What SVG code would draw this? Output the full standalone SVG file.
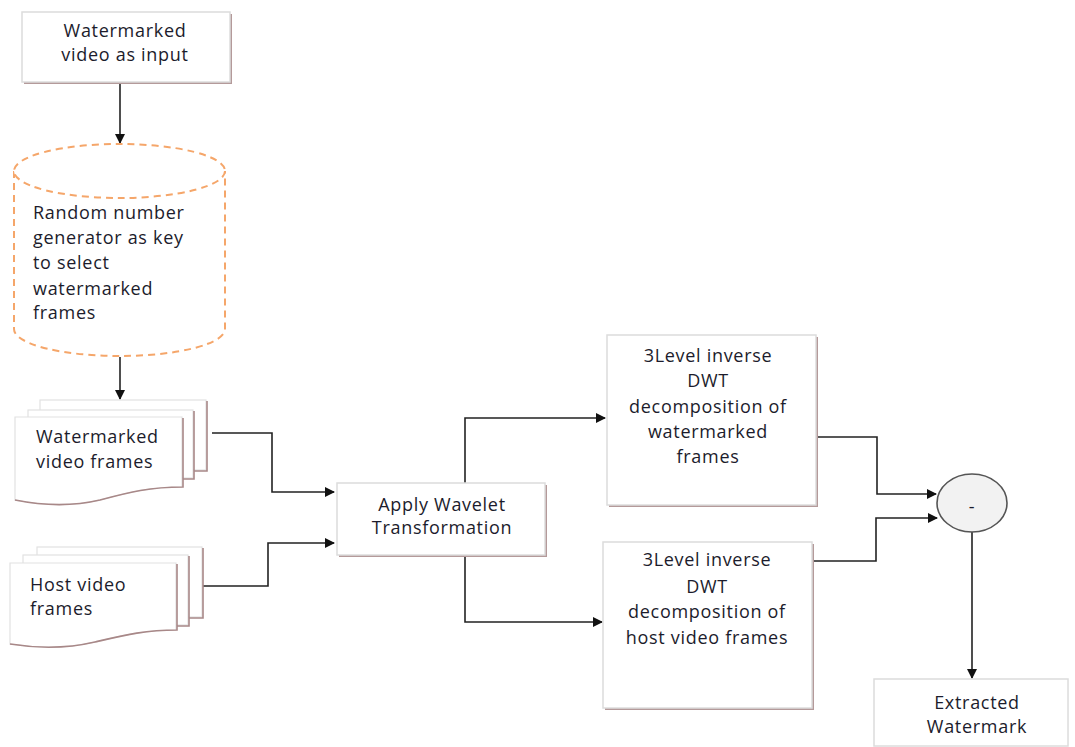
<svg xmlns="http://www.w3.org/2000/svg" width="1075" height="747" viewBox="0 0 1075 747">
<defs>
<style>
.t{font-family:"Open Sans","Liberation Sans",sans-serif;font-size:18px;font-weight:500;fill:#1c1c2c;letter-spacing:0.7px}
.c{text-anchor:middle}
.box{fill:#fff;stroke:#dcdcdc;stroke-width:1.5}
.sh{fill:#b49a9a}
.pg{fill:#fff;stroke:#e2e2e2;stroke-width:1.2}
.pgs{fill:none;stroke:#a88888;stroke-width:1.6}
.ln{fill:none;stroke:#222;stroke-width:1.6}
</style>
<marker id="ah" viewBox="0 0 10 10" refX="9" refY="5" markerWidth="10" markerHeight="10" markerUnits="userSpaceOnUse" orient="auto">
<path d="M0,0 L10,5 L0,10 z" fill="#111"/>
</marker>
</defs>
<rect width="1075" height="747" fill="#fff"/>

<g id="connectors">
<path class="ln" d="M120,83 V143" marker-end="url(#ah)"/>
<path class="ln" d="M120,357 V399" marker-end="url(#ah)"/>
<path class="ln" d="M212,433 H272 V492 H334" marker-end="url(#ah)"/>
<path class="ln" d="M203,586 H268 V543 H334" marker-end="url(#ah)"/>
<path class="ln" d="M465,483 V418 H605" marker-end="url(#ah)"/>
<path class="ln" d="M465,556 V622 H602" marker-end="url(#ah)"/>
<path class="ln" d="M817,437 H877 V494 H936" marker-end="url(#ah)"/>
<path class="ln" d="M813,561 H876 V518 H937" marker-end="url(#ah)"/>
<path class="ln" d="M972,532 V678" marker-end="url(#ah)"/>
</g>

<g id="input">
<rect class="sh" x="24" y="14" width="208" height="70"/>
<rect class="box" x="22" y="12" width="208" height="70"/>
<text class="t c" x="125" y="37">Watermarked</text>
<text class="t c" x="125" y="61">video as input</text>
</g>

<g id="rng">
<path d="M14,171 V329 A105.5,27 0 0 0 225,329 V171" fill="#fff" stroke="#f5a66a" stroke-width="2" stroke-dasharray="7,5"/>
<ellipse cx="119.5" cy="171" rx="105.5" ry="27" fill="#fff" stroke="#f5a66a" stroke-width="2" stroke-dasharray="7,5"/>
<text class="t" x="33" y="219">Random number</text>
<text class="t" x="33" y="244">generator as key</text>
<text class="t" x="33" y="269">to select</text>
<text class="t" x="33" y="295">watermarked</text>
<text class="t" x="33" y="319">frames</text>
</g>

<g id="wm-frames">
<rect class="pg" x="40" y="400" width="166" height="70"/>
<path class="pgs" d="M207,401 V471 H194"/>
<rect class="pg" x="28" y="410" width="165" height="68"/>
<path class="pgs" d="M194,411 V479 H183"/>
<path class="pg" d="M15,417 H182 V487 C150,487 130,492 100,500 C70,507 40,505 15,500 Z"/>
<path class="pgs" d="M183,418 V487 C150,487 130,492 100,500 C70,507 40,505 15,500"/>
<text class="t" x="36" y="443">Watermarked</text>
<text class="t" x="36" y="468">video frames</text>
</g>

<g id="host-frames">
<rect class="pg" x="37" y="547" width="165" height="70"/>
<path class="pgs" d="M203,548 V618 H189"/>
<rect class="pg" x="23" y="555" width="165" height="70"/>
<path class="pgs" d="M189,556 V626 H177"/>
<path class="pg" d="M10,563 H176 V630 C145,630 125,635 95,642 C65,649 35,648 10,644 Z"/>
<path class="pgs" d="M177,564 V630 C145,630 125,635 95,642 C65,649 35,648 10,644"/>
<text class="t" x="30" y="591">Host video</text>
<text class="t" x="30" y="615">frames</text>
</g>

<g id="wavelet">
<rect class="sh" x="339" y="485" width="208" height="72"/>
<rect class="box" x="337" y="483" width="208" height="72"/>
<text class="t c" x="442" y="511">Apply Wavelet</text>
<text class="t c" x="442" y="534">Transformation</text>
</g>

<g id="dwt-wm">
<rect class="sh" x="609" y="337" width="209" height="170"/>
<rect class="box" x="607" y="335" width="209" height="170"/>
<text class="t c" x="708" y="362">3Level inverse</text>
<text class="t c" x="708" y="387">DWT</text>
<text class="t c" x="708" y="413">decomposition of</text>
<text class="t c" x="708" y="438">watermarked</text>
<text class="t c" x="708" y="463">frames</text>
</g>

<g id="dwt-host">
<rect class="sh" x="605" y="544" width="209" height="166"/>
<rect class="box" x="603" y="542" width="209" height="166"/>
<text class="t c" x="707" y="566">3Level inverse</text>
<text class="t c" x="707" y="593">DWT</text>
<text class="t c" x="707" y="618">decomposition of</text>
<text class="t c" x="707" y="644">host video frames</text>
</g>

<g id="minus">
<ellipse cx="972" cy="503" rx="35" ry="29" fill="#f2f2f2" stroke="#555" stroke-width="1.6"/>
<text class="t c" x="972" y="513">-</text>
</g>

<g id="extracted">
<rect class="box" x="874" y="679" width="194" height="67"/>
<text class="t c" x="977" y="709">Extracted</text>
<text class="t c" x="977" y="733">Watermark</text>
</g>
</svg>
